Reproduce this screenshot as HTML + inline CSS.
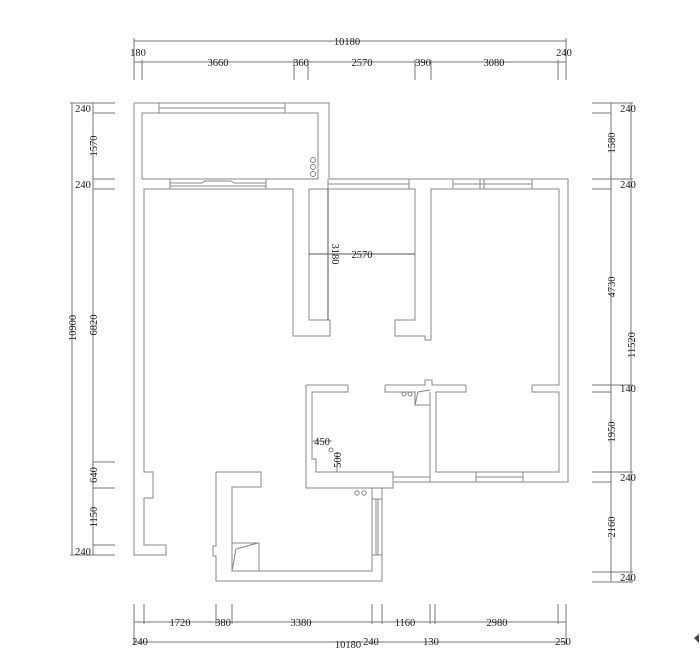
<!DOCTYPE html>
<html><head><meta charset="utf-8"><style>
html,body{margin:0;padding:0;background:#fff;}
svg{display:block;}
text{font-family:"Liberation Serif",serif;font-size:10.5px;fill:#222;}
</style></head><body>
<svg width="700" height="671" viewBox="0 0 700 671" xmlns="http://www.w3.org/2000/svg">
<g fill="none" stroke="#777" stroke-width="1">
<line x1="134" y1="41" x2="566" y2="41"/>
<line x1="134" y1="62" x2="566" y2="62"/>
<path d="M134 38V80M142 60V80M294 60V80M308 60V80M415 60V80M431 60V80M558 60V80M566 38V80"/>
<line x1="72" y1="103" x2="72" y2="555"/>
<line x1="93" y1="103" x2="93" y2="555"/>
<path d="M70 103H115M93 113H115M93 179H115M93 189H115M93 462H115M93 488H115M93 545H115M70 555H115"/>
<line x1="611" y1="103" x2="611" y2="582"/>
<line x1="631" y1="103" x2="631" y2="582"/>
<path d="M592 103H633M592 113H611M592 179H633M592 189H611M592 385H633M592 392H611M592 472H633M592 482H611M592 572H633M592 582H633"/>
<line x1="134" y1="622" x2="566" y2="622"/>
<line x1="134" y1="642" x2="566" y2="642"/>
<path d="M134 604V645M144 604V624M216 604V624M232 604V624M372 604V624M382 604V624M430 604V624M435 604V624M558 604V624M566 604V645"/>
</g>

<g fill="none" stroke="#888" stroke-width="1">
<path d="M134 103H329V179"/>
<path d="M142 179V113H318V179H142"/>
<path d="M159 103V113M285 103V113M159 108H285"/>
<circle cx="313" cy="160" r="2.5"/><circle cx="313" cy="167" r="2.5"/><circle cx="313" cy="174" r="2.5"/>
<path d="M134 103V555H166V545H144V498H153V472H144V189H293V336H330V320H309V189"/>
<path d="M170 179V189M266 179V189M170 183H202M234 183H266M170 186H266M202 183L205 181H231L234 183"/>
<path d="M329 179H568V482H430"/>
<path d="M309 189H415V320H395V336H425V340H431V189H559V385H532V392H559V472H436V392H466V385"/>
<path d="M328 179V189M409 179V189M328 184H409"/>
<path d="M453 179V189M480 179V189M484 179V189M532 179V189M453 184H532"/>
<path d="M306 385H348V392H312V459H316V472H393V488H306V385"/>
<path d="M393 472V482H430M393 477H430"/>
<path d="M385 385H425V380H432V385H466M385 385V392H415V405H430V392M430 392V482M436 392V472"/>
<path d="M415 405L418 392L430 390" />
<circle cx="404" cy="394" r="2"/><circle cx="410" cy="394" r="2"/>
<path d="M476 472V482M523 472V482M476 477H523"/>
<path d="M216 472H261V487H232V571H372V488M382 488V581H216V556H213V546H216V472"/>
<path d="M372 499H382M372 555H382M376 499V555M378 499V555"/>
<path d="M232 543H259V571M232 571L236 549L258 543"/>
<circle cx="357" cy="493" r="2.2"/><circle cx="364" cy="493" r="2.2"/>
<path d="M312 441H332M337 452V472"/>
<circle cx="331" cy="450" r="2"/>
</g>
<g stroke="#555" stroke-width="1" fill="none">
<path d="M309 254H415M328 189V320"/>
</g>

<text x="347" y="45" text-anchor="middle">10180</text>
<text x="138" y="56" text-anchor="middle">180</text>
<text x="564" y="56" text-anchor="middle">240</text>
<text x="218" y="66" text-anchor="middle">3660</text>
<text x="301" y="66" text-anchor="middle">360</text>
<text x="362" y="66" text-anchor="middle">2570</text>
<text x="423" y="66" text-anchor="middle">390</text>
<text x="494" y="66" text-anchor="middle">3080</text>
<text x="362" y="258" text-anchor="middle">2570</text>
<text transform="translate(332,254) rotate(90)" text-anchor="middle">3180</text>

<text x="83" y="112" text-anchor="middle">240</text>
<text x="83" y="188" text-anchor="middle">240</text>
<text x="83" y="555" text-anchor="middle">240</text>
<text transform="translate(97,146) rotate(-90)" text-anchor="middle">1570</text>
<text transform="translate(97,325) rotate(-90)" text-anchor="middle">6820</text>
<text transform="translate(97,475) rotate(-90)" text-anchor="middle">640</text>
<text transform="translate(97,517) rotate(-90)" text-anchor="middle">1150</text>
<text transform="translate(76,328) rotate(-90)" text-anchor="middle">10900</text>

<text x="628" y="112" text-anchor="middle">240</text>
<text x="628" y="188" text-anchor="middle">240</text>
<text x="628" y="392" text-anchor="middle">140</text>
<text x="628" y="481" text-anchor="middle">240</text>
<text x="628" y="581" text-anchor="middle">240</text>
<text transform="translate(615,143) rotate(-90)" text-anchor="middle">1580</text>
<text transform="translate(615,287) rotate(-90)" text-anchor="middle">4730</text>
<text transform="translate(615,432) rotate(-90)" text-anchor="middle">1950</text>
<text transform="translate(615,527) rotate(-90)" text-anchor="middle">2160</text>
<text transform="translate(635,345) rotate(-90)" text-anchor="middle">11520</text>

<text x="180" y="626" text-anchor="middle">1720</text>
<text x="223" y="626" text-anchor="middle">380</text>
<text x="301" y="626" text-anchor="middle">3380</text>
<text x="405" y="626" text-anchor="middle">1160</text>
<text x="497" y="626" text-anchor="middle">2980</text>
<text x="140" y="645" text-anchor="middle">240</text>
<text x="348" y="648" text-anchor="middle">10180</text>
<text x="371" y="645" text-anchor="middle">240</text>
<text x="431" y="645" text-anchor="middle">130</text>
<text x="563" y="645" text-anchor="middle">250</text>

<text x="322" y="445" text-anchor="middle">450</text>
<text transform="translate(341,460) rotate(-90)" text-anchor="middle">500</text>

<path d="M694 638L699 634V643Z" fill="#444"/>
</svg>
</body></html>
